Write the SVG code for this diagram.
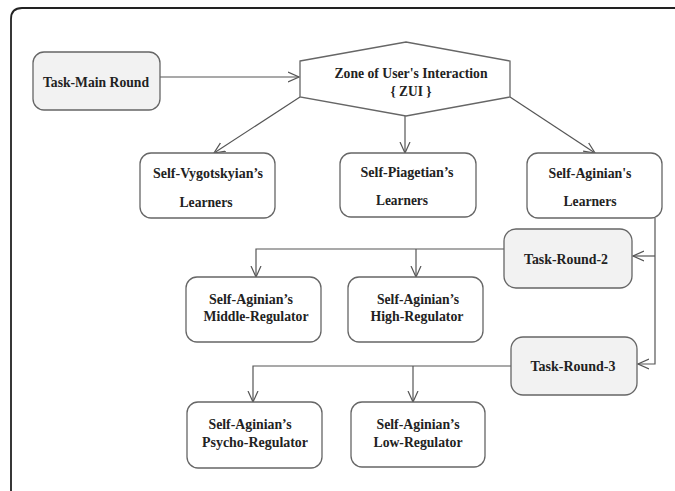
<svg xmlns="http://www.w3.org/2000/svg" width="675" height="491" viewBox="0 0 675 491">
<defs>
<style>
.frame{fill:none;stroke:#222;stroke-width:1.8}
.box{fill:#fff;stroke:#666;stroke-width:1.3}
.gbox{fill:#f2f2f2;stroke:#666;stroke-width:1.3}
.t{font-family:"Liberation Serif","Times New Roman","DejaVu Serif",serif;font-weight:bold;font-size:15.5px;fill:#222;text-anchor:middle}
.c{fill:none;stroke:#555;stroke-width:1.2}
</style>
<marker id="ah" viewBox="0 0 12 12" refX="11" refY="6" markerWidth="12" markerHeight="12" markerUnits="userSpaceOnUse" orient="auto">
<path d="M0,1 L11,6 L0,11" fill="none" stroke="#555" stroke-width="1.2"/>
</marker>
</defs>
<rect width="675" height="491" fill="#fff"/>
<path class="frame" d="M11,491 L11,19 Q11,8 22,8 L675,8"/>

<g id="connectors">
<line class="c" x1="160" y1="77" x2="299" y2="77" marker-end="url(#ah)"/>
<line class="c" x1="300" y1="97" x2="214" y2="153" marker-end="url(#ah)"/>
<line class="c" x1="405" y1="116" x2="405" y2="153" marker-end="url(#ah)"/>
<line class="c" x1="510" y1="97" x2="595" y2="153" marker-end="url(#ah)"/>
<polyline class="c" points="655,218 655,364 638,364" marker-end="url(#ah)"/>
<polyline class="c" points="655,256 633,256" marker-end="url(#ah)"/>
<polyline class="c" points="504,249 256,249 256,277" marker-end="url(#ah)"/>
<polyline class="c" points="416,249 416,277" marker-end="url(#ah)"/>
<polyline class="c" points="511,366 253,366 253,402" marker-end="url(#ah)"/>
<polyline class="c" points="413,366 413,402" marker-end="url(#ah)"/>
</g>

<g id="task-main-round">
<rect class="gbox" x="33" y="52" width="127" height="58" rx="11"/>
<text class="t" x="96" y="87" textLength="106" lengthAdjust="spacingAndGlyphs">Task-Main Round</text>
</g>

<g id="zui">
<polygon class="box" points="300,61 406,42 510,61 510,97 406,116 300,97"/>
<text class="t" x="411" y="78" textLength="153" lengthAdjust="spacingAndGlyphs">Zone of User's Interaction</text>
<text class="t" x="411" y="96" textLength="41" lengthAdjust="spacingAndGlyphs">{ ZUI }</text>
</g>

<g id="vygotskyian">
<rect class="box" x="140" y="153" width="135" height="65" rx="11"/>
<text class="t" x="208" y="178" textLength="110" lengthAdjust="spacingAndGlyphs">Self-Vygotskyian’s</text>
<text class="t" x="206" y="207" textLength="53" lengthAdjust="spacingAndGlyphs">Learners</text>
</g>

<g id="piagetian">
<rect class="box" x="340" y="153" width="136" height="64" rx="11"/>
<text class="t" x="407" y="177" textLength="93" lengthAdjust="spacingAndGlyphs">Self-Piagetian’s</text>
<text class="t" x="402" y="205" textLength="52" lengthAdjust="spacingAndGlyphs">Learners</text>
</g>

<g id="aginian">
<rect class="box" x="527" y="153" width="135" height="65" rx="11"/>
<text class="t" x="590" y="178" textLength="83" lengthAdjust="spacingAndGlyphs">Self-Aginian's</text>
<text class="t" x="590" y="206" textLength="53" lengthAdjust="spacingAndGlyphs">Learners</text>
</g>

<g id="task-round-2">
<rect class="gbox" x="504" y="229" width="128" height="59" rx="12"/>
<text class="t" x="566" y="264" textLength="84" lengthAdjust="spacingAndGlyphs">Task-Round-2</text>
</g>

<g id="middle-regulator">
<rect class="box" x="186" y="277" width="135" height="65" rx="11"/>
<text class="t" x="251" y="304" textLength="84" lengthAdjust="spacingAndGlyphs">Self-Aginian’s</text>
<text class="t" x="256" y="321" textLength="105" lengthAdjust="spacingAndGlyphs">Middle-Regulator</text>
</g>

<g id="high-regulator">
<rect class="box" x="348" y="277" width="135" height="65" rx="11"/>
<text class="t" x="418" y="304" textLength="82" lengthAdjust="spacingAndGlyphs">Self-Aginian’s</text>
<text class="t" x="417" y="321" textLength="93" lengthAdjust="spacingAndGlyphs">High-Regulator</text>
</g>

<g id="task-round-3">
<rect class="gbox" x="511" y="337" width="126" height="58" rx="12"/>
<text class="t" x="573" y="371" textLength="85" lengthAdjust="spacingAndGlyphs">Task-Round-3</text>
</g>

<g id="psycho-regulator">
<rect class="box" x="187" y="402" width="135" height="66" rx="11"/>
<text class="t" x="250" y="429" textLength="83" lengthAdjust="spacingAndGlyphs">Self-Aginian’s</text>
<text class="t" x="255" y="447" textLength="106" lengthAdjust="spacingAndGlyphs">Psycho-Regulator</text>
</g>

<g id="low-regulator">
<rect class="box" x="351" y="402" width="134" height="65" rx="11"/>
<text class="t" x="418" y="429" textLength="83" lengthAdjust="spacingAndGlyphs">Self-Aginian’s</text>
<text class="t" x="418" y="447" textLength="89" lengthAdjust="spacingAndGlyphs">Low-Regulator</text>
</g>
</svg>
